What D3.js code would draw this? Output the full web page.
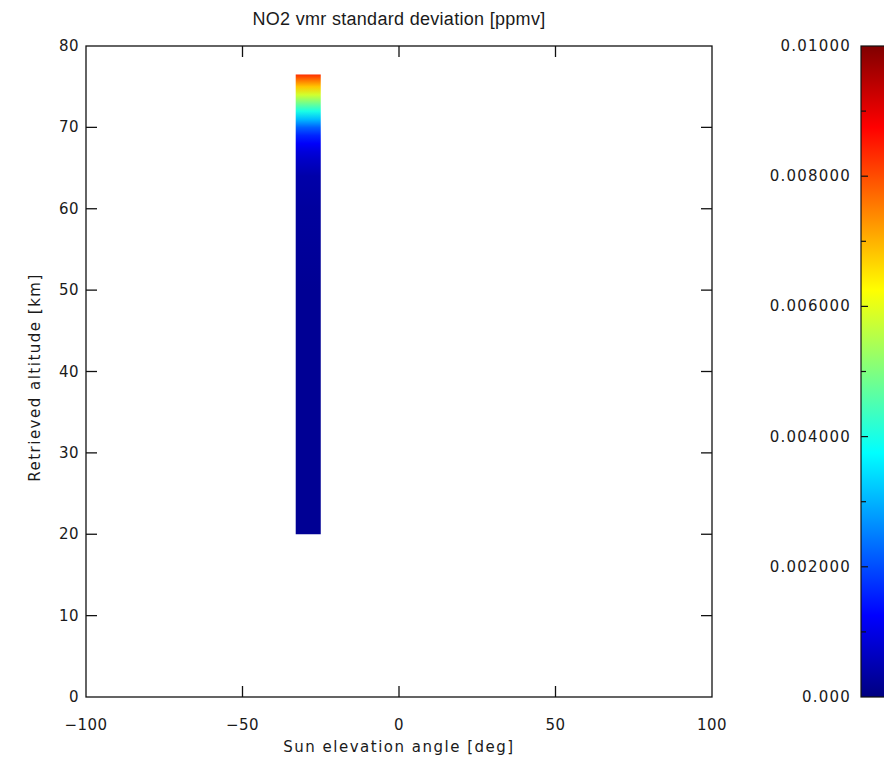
<!DOCTYPE html>
<html><head><meta charset="utf-8">
<script src="https://cdn.jsdelivr.net/npm/d3@7"></script>
<style>
body{margin:0;background:#fff;}
text{font-family:"DejaVu Sans",sans-serif;fill:#1a1a1a;}
</style></head>
<body><svg id="c" width="884" height="767"></svg>
<script>
// ---- data ----
const title = "NO2 vmr standard deviation [ppmv]";
const xLabel = "Sun elevation angle [deg]";
const yLabel = "Retrieved altitude [km]";
const xTicks = [-100, -50, 0, 50, 100];
const yTicks = [0, 10, 20, 30, 40, 50, 60, 70, 80];
const cbTicks = [0, 0.002, 0.004, 0.006, 0.008, 0.01];
const cbTickLabels = ["0.000", "0.002000", "0.004000", "0.006000", "0.008000", "0.01000"];
const sunAngleBin = [-33, -25];           // sun elevation bin of the single profile
const altitudes = [20, 30, 40, 50, 60, 64, 66, 67, 68, 69, 70, 71, 72, 73, 74, 75, 76, 76.5];
const stdValues = [0.0002, 0.0002, 0.0002, 0.0002, 0.0003, 0.0004, 0.0007, 0.0009, 0.0012, 0.0016, 0.0022, 0.0031, 0.0040, 0.0049, 0.0058, 0.0068, 0.0078, 0.0083];

// ---- layout ----
const svg = d3.select("#c");
const L = 86, R = 712, T = 46, B = 697;
const x = d3.scaleLinear().domain([-100, 100]).range([L, R]);
const y = d3.scaleLinear().domain([0, 80]).range([B, T]);
const vmax = 0.01;
const jet = d3.scaleLinear()
  .domain([0, 0.125, 0.375, 0.625, 0.875, 1].map(d => d * vmax))
  .range(["#000080", "#0000ff", "#00ffff", "#ffff00", "#ff0000", "#800000"])
  .clamp(true);

const defs = svg.append("defs");

// data bar with vertical gradient
const g1 = defs.append("linearGradient").attr("id", "barGrad")
  .attr("gradientUnits", "userSpaceOnUse")
  .attr("x1", 0).attr("x2", 0)
  .attr("y1", y(altitudes[0])).attr("y2", y(altitudes[altitudes.length - 1]));
const a0 = altitudes[0], a1 = altitudes[altitudes.length - 1];
altitudes.forEach((a, i) => {
  g1.append("stop").attr("offset", (a - a0) / (a1 - a0)).attr("stop-color", jet(stdValues[i]));
});
svg.append("rect")
  .attr("x", x(sunAngleBin[0])).attr("width", x(sunAngleBin[1]) - x(sunAngleBin[0]))
  .attr("y", y(a1)).attr("height", y(a0) - y(a1))
  .attr("fill", "url(#barGrad)");

// frame
svg.append("rect").attr("x", L).attr("y", T).attr("width", R - L).attr("height", B - T)
  .attr("fill", "none").attr("stroke", "#111").attr("stroke-width", 1.3);

// ticks (inward)
const tl = 11;
xTicks.slice(1, -1).forEach(v => {
  svg.append("line").attr("x1", x(v)).attr("x2", x(v)).attr("y1", B).attr("y2", B - tl).attr("stroke", "#111").attr("stroke-width", 1.3);
  svg.append("line").attr("x1", x(v)).attr("x2", x(v)).attr("y1", T).attr("y2", T + tl).attr("stroke", "#111").attr("stroke-width", 1.3);
});
yTicks.slice(1, -1).forEach(v => {
  svg.append("line").attr("x1", L).attr("x2", L + tl).attr("y1", y(v)).attr("y2", y(v)).attr("stroke", "#111").attr("stroke-width", 1.3);
  svg.append("line").attr("x1", R).attr("x2", R - tl).attr("y1", y(v)).attr("y2", y(v)).attr("stroke", "#111").attr("stroke-width", 1.3);
});

// tick labels
xTicks.forEach(v => {
  svg.append("text").attr("x", x(v)).attr("y", B + 33).attr("text-anchor", "middle")
    .attr("font-size", 15).attr("letter-spacing", 0.5).text(v < 0 ? "\u2212" + Math.abs(v) : v);
});
yTicks.forEach(v => {
  svg.append("text").attr("x", L - 7).attr("y", y(v) + 5).attr("text-anchor", "end")
    .attr("font-size", 15).attr("letter-spacing", 0.5).text(v);
});

svg.append("text").attr("x", (L + R) / 2).attr("y", 25).attr("text-anchor", "middle")
  .style("font-family", "'Liberation Sans', Arial, sans-serif")
  .attr("font-size", 18).attr("letter-spacing", 0.3).text(title);
svg.append("text").attr("x", (L + R) / 2).attr("y", 752).attr("text-anchor", "middle")
  .attr("font-size", 15).attr("letter-spacing", 1.5).text(xLabel);
svg.append("text").attr("transform", `translate(40,${(T + B) / 2 + 6}) rotate(-90)`)
  .attr("text-anchor", "middle").attr("font-size", 15).attr("letter-spacing", 1.5).text(yLabel);

// colour bar
const cbL = 861, cbW = 30;
const cy = d3.scaleLinear().domain([0, vmax]).range([B, T]);
const g2 = defs.append("linearGradient").attr("id", "cbGrad")
  .attr("x1", 0).attr("x2", 0).attr("y1", 1).attr("y2", 0);
jet.domain().forEach(d => g2.append("stop").attr("offset", d / vmax).attr("stop-color", jet(d)));
svg.append("rect").attr("x", cbL).attr("y", T).attr("width", cbW).attr("height", B - T)
  .attr("fill", "url(#cbGrad)").attr("stroke", "#111").attr("stroke-width", 1.2);
d3.range(0, 11).forEach(i => {
  const v = i * vmax / 10;
  if (i === 0 || i === 10) return;
  svg.append("line").attr("x1", cbL).attr("x2", cbL + (i % 2 === 0 ? 7 : 5))
    .attr("y1", cy(v)).attr("y2", cy(v)).attr("stroke", "#111").attr("stroke-width", 1.2);
});
cbTicks.forEach((v, i) => {
  svg.append("text").attr("x", cbL - 10).attr("y", cy(v) + 5).attr("text-anchor", "end")
    .attr("font-size", 15).attr("letter-spacing", 1.2).text(cbTickLabels[i]);
});
</script></body></html>
